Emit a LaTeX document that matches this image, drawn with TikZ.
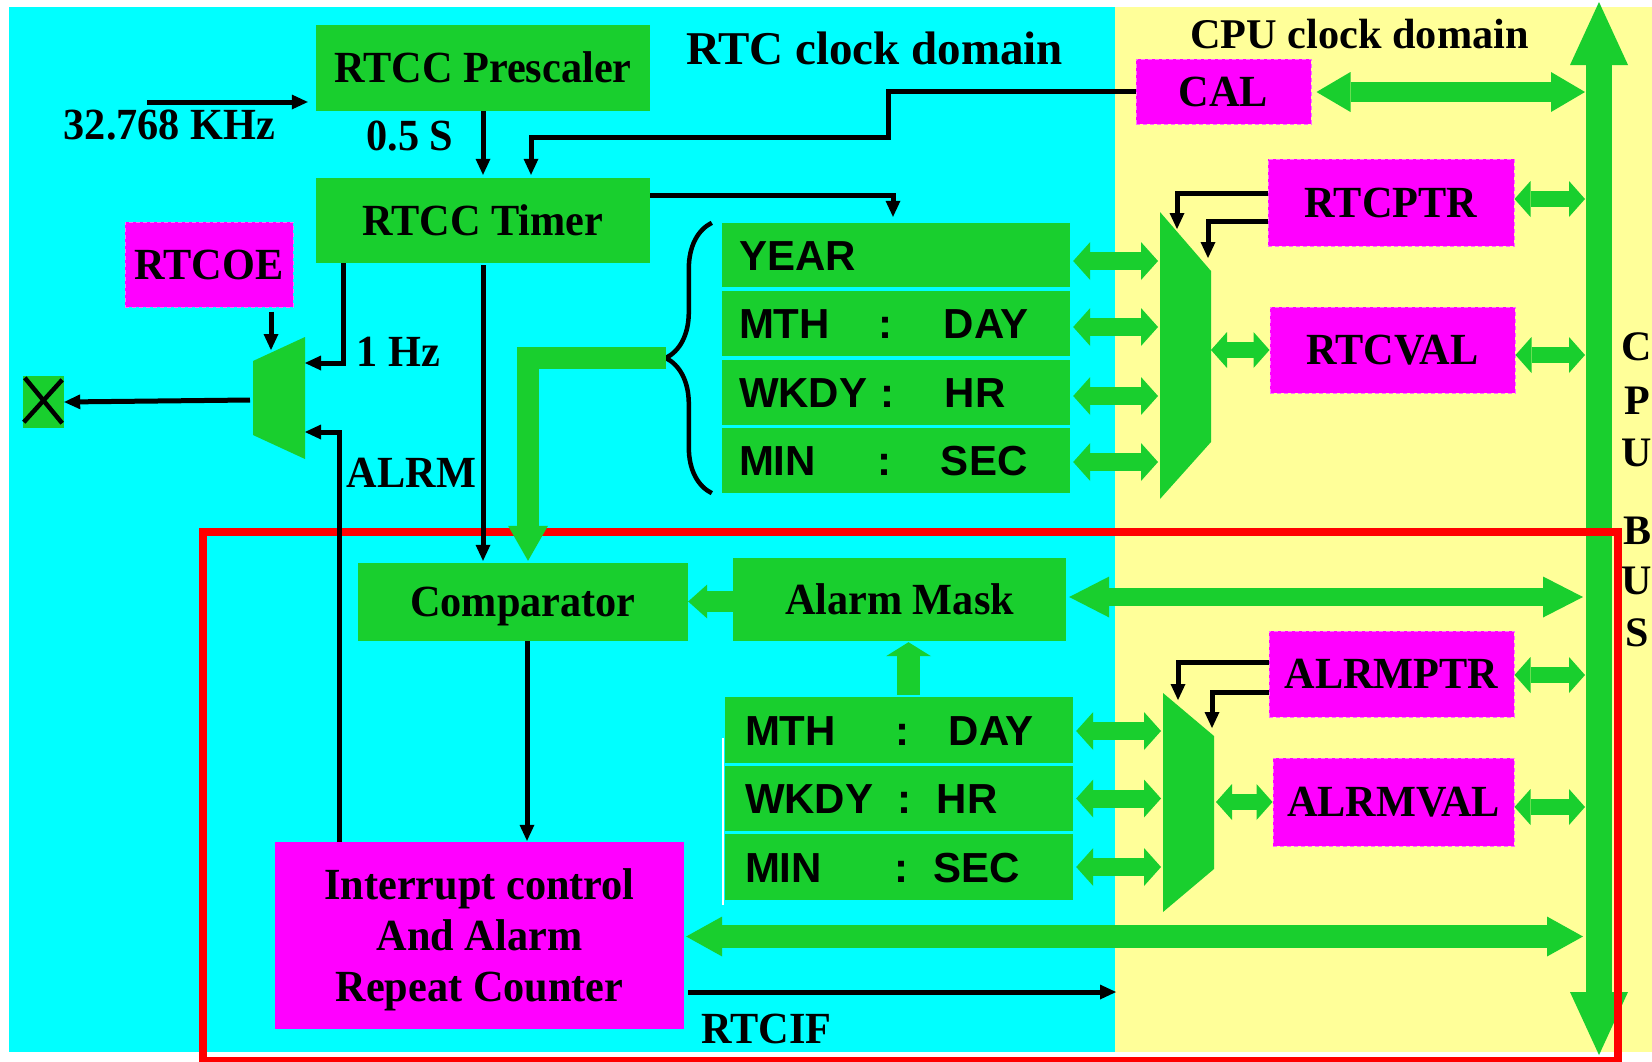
\documentclass[tikz,border=0pt]{standalone}
\usepackage{fontspec}
\setmainfont{Liberation Serif}
\newfontfamily\lblfont[FakeStretch=0.95]{Liberation Serif}
\newfontfamily\regfont{Liberation Sans}
\usetikzlibrary{arrows.meta,calc,decorations.pathreplacing}

\definecolor{rtcbg}{RGB}{0,255,255}
\definecolor{cpubg}{RGB}{255,255,153}
\definecolor{blockgreen}{RGB}{25,207,46}
\definecolor{regpink}{RGB}{255,0,255}
\definecolor{regedge}{RGB}{255,110,255}
\definecolor{zonered}{RGB}{255,0,0}

\tikzset{
  lbl/.style={font=\lblfont\bfseries\fontsize{44.5}{51}\selectfont,
    text height=29.5pt, text depth=0pt, inner sep=0pt},
  gbox/.style={lbl, fill=blockgreen},
  pbox/.style={lbl, fill=regpink, draw=regedge, dash pattern=on 4pt off 3pt, line width=1pt},
  ibox/.style={fill=regpink, inner sep=0pt},
  multilbl/.style={font=\lblfont\bfseries\fontsize{44.5}{51}\selectfont, align=center, inner sep=0pt},
  regrow/.style={font=\regfont\bfseries\fontsize{42}{50}\selectfont,
    text height=30pt, text depth=0pt, fill=blockgreen, align=left, inner ysep=0pt},
  rtcreg/.style={regrow, inner xsep=17pt, text width=314pt},
  almreg/.style={regrow, inner xsep=20pt, text width=308pt},
  title/.style={font=\bfseries\fontsize{47}{56}\selectfont, text height=31pt, text depth=0pt, inner sep=0pt},
  subtitle/.style={font=\bfseries\fontsize{42.3}{50}\selectfont, text height=28pt, text depth=0pt, inner sep=0pt},
  busletter/.style={font=\bfseries\fontsize{42}{50}\selectfont, text height=28pt, text depth=0pt, inner sep=0pt},
  blk/.style={draw=black, line width=5pt,
    arrows={-Triangle[length=16pt,width=15pt,line width=0pt]}},
  gone/.style n args={3}{draw=blockgreen, line width=#1,
    arrows={-Triangle[length=#2,width=#3,line width=0pt]}},
  gtwo/.style n args={3}{draw=blockgreen, line width=#1,
    arrows={Triangle[length=#2,width=#3,line width=0pt]-Triangle[length=#2,width=#3,line width=0pt]}},
}

\begin{document}
\begin{tikzpicture}[x=1pt,y=-1pt]
\useasboundingbox (0,0) rectangle (1652,1061);
\fill[white] (0,0) rectangle (1652,1061);
% clock domains
\fill[rtcbg] (9,7) rectangle (1115,1052);
\fill[cpubg] (1115,7) rectangle (1652,1052);

% CPU bus
\coordinate (bustop) at (1599,2);
\coordinate (busbot) at (1599,1055);
\coordinate (busL) at (1585,0);
\draw[gtwo={26pt}{63pt}{58pt}] (busbot) -- (bustop);

% alarm section frame
\draw[zonered, line width=8pt] (203,532) rectangle (1618,1061);

% domain titles
\node[title] (rtcdom) at (874.5,48.5) {RTC clock domain};
\node[subtitle] (cpudom) at (1359.5,34) {CPU clock domain};

% timing blocks
\node[gbox, minimum width=334pt, minimum height=86pt] (presc) at (483,68) {RTCC Prescaler};
\node[gbox, minimum width=334pt, minimum height=85pt] (timer) at (483,220.5) {RTCC Timer};
\node[gbox, minimum width=330pt, minimum height=78pt] (comp) at (523,602) {Comparator};
\node[gbox, minimum width=333pt, minimum height=83pt] (amask) at (899.5,599.5) {Alarm Mask};

% control / value registers
\node[pbox, minimum width=168pt, minimum height=85pt] (rtcoe) at (209,264.5) {RTCOE};
\node[pbox, minimum width=175pt, minimum height=65pt] (cal) at (1223.5,91.5) {CAL};
\node[pbox, minimum width=246pt, minimum height=87pt] (rtcptr) at (1391,202.5) {RTCPTR};
\node[pbox, minimum width=245pt, minimum height=86pt] (rtcval) at (1392.5,350) {RTCVAL};
\node[pbox, minimum width=245pt, minimum height=86pt] (alrmptr) at (1391.5,674) {ALRMPTR};
\node[pbox, minimum width=241pt, minimum height=88pt] (alrmval) at (1393.5,802) {ALRMVAL};

% interrupt block
\node[ibox, minimum width=409pt, minimum height=187pt] (intr) at (479.5,935.5) {};
\node[multilbl] (intrtext) at ($(intr.center)+(0,4.3)$) {Interrupt control\\And Alarm\\Repeat Counter};

% time registers
\node[rtcreg, minimum height=64pt] (year) at (896,255) {\noindent YEAR};
\node[rtcreg, minimum height=65pt] (mthday) at (896,323.5) {\noindent\makebox[140pt][l]{MTH}:\hspace{51pt}DAY};
\node[rtcreg, minimum height=65pt] (wkdyhr) at (896,392.5) {\noindent\makebox[142pt][l]{WKDY}:\hspace{50pt}HR};
\node[rtcreg, minimum height=65pt] (minsec) at (896,460.5) {\noindent\makebox[139pt][l]{MIN}:\hspace{49pt}SEC};

% alarm registers
\node[almreg, minimum height=66pt] (amth) at (899,730) {\noindent\makebox[151pt][l]{MTH}:\hspace{39pt}DAY};
\node[almreg, minimum height=65pt] (awkdy) at (899,798.5) {\noindent\makebox[153pt][l]{WKDY}:\hspace{25pt}HR};
\node[almreg, minimum height=66pt] (amin) at (899,867) {\noindent\makebox[150pt][l]{MIN}:\hspace{25pt}SEC};
\draw[white, line width=2pt] ($(amth.north west)+(-2,41)$) -- ($(amin.south west)+(-2,5)$);

% output pin
\node[gbox, minimum width=41pt, minimum height=52pt] (xpin) at (43.5,402) {};
\draw[line width=4.5pt] ($(xpin.north west)+(2,2)$) -- ($(xpin.south east)+(-2,-5)$);
\draw[line width=4.5pt] ($(xpin.north east)+(-2,4)$) -- ($(xpin.south west)+(1,-6)$);

% multiplexers
\fill[blockgreen] (253,361) -- (305,337) -- (305,459) -- (253,435) -- cycle;
\fill[blockgreen] (1160,212) -- (1211,271) -- (1211,442) -- (1160,499) -- cycle;
\fill[blockgreen] (1163,693) -- (1214,736) -- (1214,869) -- (1163,912) -- cycle;
\coordinate (omuxsel) at (271,350);
\coordinate (omuxin1) at (305,363);
\coordinate (omuxin2) at (305,432);
\coordinate (omuxout) at (250,400);
\coordinate (rmuxL) at (1158,0);
\coordinate (rmuxR) at (1211,0);
\coordinate (rsel1) at (1177,229);
\coordinate (rsel2) at (1208,258);
\coordinate (amuxL) at (1161,0);
\coordinate (amuxR) at (1216,0);
\coordinate (asel1) at (1178,700);
\coordinate (asel2) at (1212,728);

% brace grouping the time registers
\draw[line width=4.5pt, decorate, decoration={brace, amplitude=46pt, aspect=0.5}]
  ($(minsec.south west)+(-10,0)$) -- ($(year.north west)+(-10,0)$);
\coordinate (bracetip) at (666,358);

% free texts
\node[lbl] (clktxt) at (169.5,125) {32.768 KHz};
\node[lbl] (halfs) at (410,136) {0.5 S};
\node[lbl] (onehz) at (398.5,352) {1 Hz};
\node[lbl] (alrmtxt) at (411.5,473) {ALRM};
\node[lbl] (rtciftxt) at (766.5,1029) {RTCIF};
\node[busletter] (bus1) at (1637,346) {C};
\node[busletter] (bus2) at (1637,400) {P};
\node[busletter] (bus3) at (1637,452) {U};
\node[busletter] (bus4) at (1637,530) {B};
\node[busletter] (bus5) at (1637,580) {U};
\node[busletter] (bus6) at (1637,632) {S};

% signal lines
\coordinate (clkin) at (147,102);
\coordinate (calbend) at (888,137);
\coordinate (rtcifend) at (1116,992);
\draw[blk] (clkin) -- ($(presc.west |- clkin)+(-8,0)$);
\draw[blk, shorten >=3pt] (presc.south) -- (timer.north);
\draw[blk] (cal.west) -| (calbend) -| ($(timer.north)+(48,-3)$);
\draw[blk] ($(timer.east)+(0,-25.5)$) -| ($(year.north)+(-3,-6)$);
\draw[blk, shorten <=2pt, shorten >=2pt] (timer.south) -- (timer.south |- comp.north);
\draw[blk] ($(timer.south west)+(28,0)$) |- (omuxin1);
\draw[blk] ($(intr.north west)+(65,0)$) |- (omuxin2);
\draw[blk] ($(rtcoe.south)+(62,4)$) -- (omuxsel);
\draw[blk] (omuxout) -- (xpin.east);
\draw[blk, shorten >=1pt] ($(comp.south)+(4,0)$) -- ($(comp.south |- intr.north)+(4,0)$);
\draw[blk] ($(intr.east)+(4,56.5)$) -- (rtcifend);
\draw[blk] ($(rtcptr.west)+(0,-9.5)$) -| (rsel1);
\draw[blk] ($(rtcptr.west)+(0,18.5)$) -| (rsel2);
\draw[blk] ($(alrmptr.west)+(0,-12)$) -| (asel1);
\draw[blk] ($(alrmptr.west)+(0,18)$) -| (asel2);

% data paths
\draw[gone={22pt}{35pt}{40pt}] (bracetip) -| ($(comp.north)+(5,-2)$);
\draw[gone={21pt}{19pt}{34pt}] ($(amask.west)+(0,2)$) -- ($(amask.west -| comp.east)+(0,2)$);
\draw[gone={23pt}{14pt}{45pt}] ($(amth.north)+(9.5,-2)$) -- ($(amth.north |- amask.south)+(9.5,1)$);

\draw[gtwo={20pt}{34pt}{40pt}] ($(cal.east)+(5,0.5)$) -- ($(cal.east -| busL)+(0,0.5)$);
\draw[gtwo={16pt}{16pt}{36pt}] ($(rtcptr.east)+(0,-3.5)$) -- ($(rtcptr.east -| busL)+(0,-3.5)$);
\draw[gtwo={16pt}{16pt}{36pt}] ($(rtcval.east)+(0,5)$) -- ($(rtcval.east -| busL)+(0,5)$);
\draw[gtwo={16pt}{16pt}{36pt}] (rtcval.west -| rmuxR) -- (rtcval.west);
\draw[gtwo={18pt}{17pt}{38pt}] ($(year.east)+(3,6)$) -- ($(year.east -| rmuxL)+(0,6)$);
\draw[gtwo={18pt}{17pt}{38pt}] ($(mthday.east)+(3,3.5)$) -- ($(mthday.east -| rmuxL)+(0,3.5)$);
\draw[gtwo={18pt}{17pt}{38pt}] ($(wkdyhr.east)+(3,3.5)$) -- ($(wkdyhr.east -| rmuxL)+(0,3.5)$);
\draw[gtwo={18pt}{17pt}{38pt}] ($(minsec.east)+(3,1.5)$) -- ($(minsec.east -| rmuxL)+(0,1.5)$);

\draw[gtwo={18pt}{40pt}{41pt}] ($(amask.east)+(3,-2.5)$) -- ($(amask.east -| busL)+(-2,-2.5)$);
\draw[gtwo={16pt}{16pt}{36pt}] ($(alrmptr.east)+(0,1)$) -- ($(alrmptr.east -| busL)+(0,1)$);
\draw[gtwo={16pt}{16pt}{36pt}] ($(alrmval.east)+(0,5)$) -- ($(alrmval.east -| busL)+(0,5)$);
\draw[gtwo={16pt}{16pt}{36pt}] (alrmval.west -| amuxR) -- (alrmval.west);
\draw[gtwo={18pt}{17pt}{38pt}] ($(amth.east)+(3,1)$) -- ($(amth.east -| amuxL)+(0,1)$);
\draw[gtwo={18pt}{17pt}{38pt}] ($(awkdy.east)+(3,0)$) -- ($(awkdy.east -| amuxL)$);
\draw[gtwo={18pt}{17pt}{38pt}] ($(amin.east)+(3,0)$) -- ($(amin.east -| amuxL)$);
\draw[gtwo={23.5pt}{36pt}{40pt}] ($(intr.east)+(2,1)$) -- ($(intr.east -| busL)+(-2,1)$);
\end{tikzpicture}
\end{document}
